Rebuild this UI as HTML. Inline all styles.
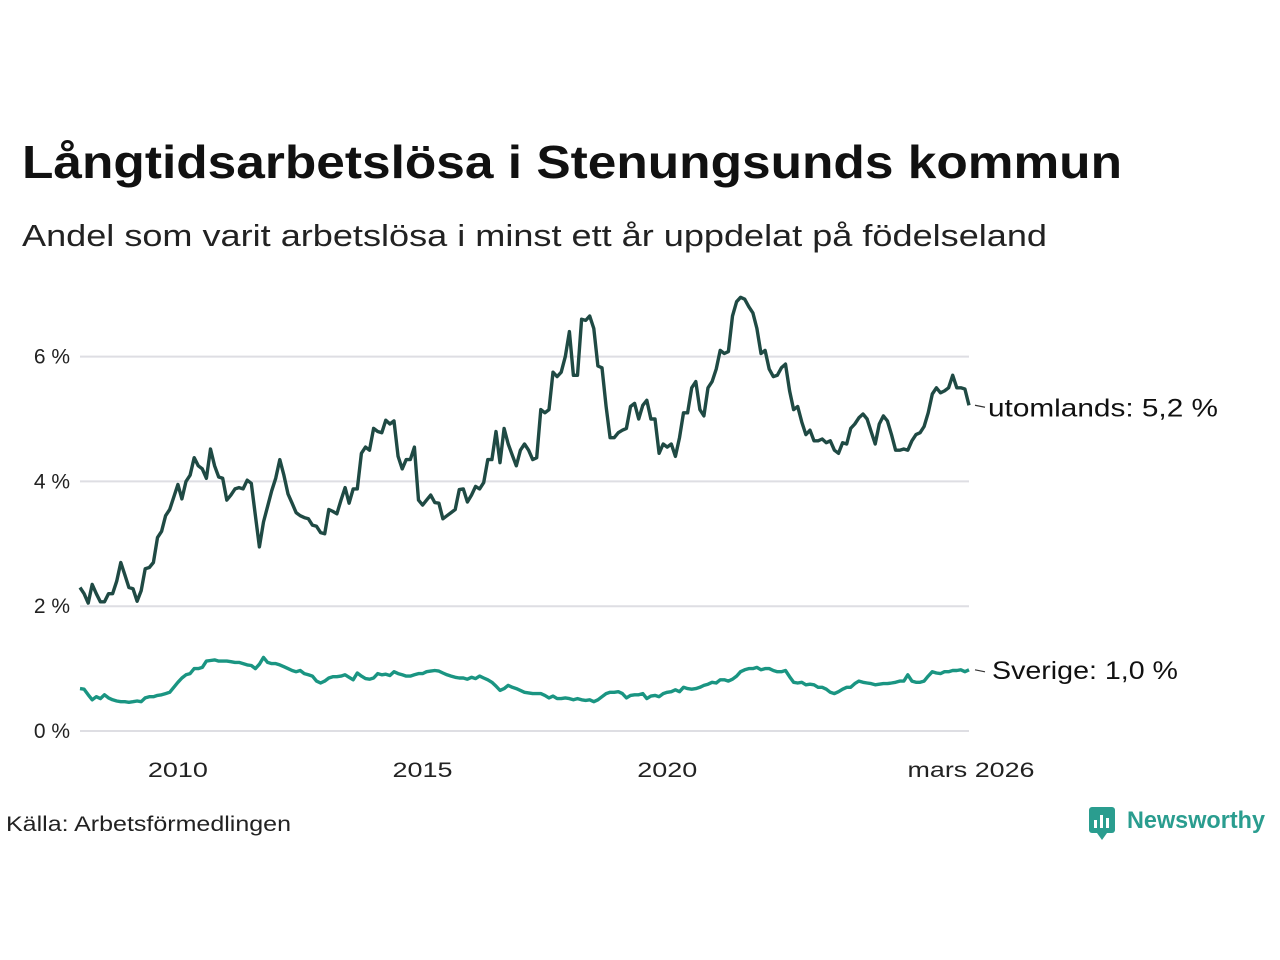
<!DOCTYPE html>
<html><head><meta charset="utf-8"><style>
body{margin:0;background:#fff;font-family:"Liberation Sans","DejaVu Sans",sans-serif;}
#wrap{position:relative;width:1280px;height:960px;overflow:hidden}
</style></head><body><div id="wrap">
<svg id="svg" width="1280" height="960">
<text x="22" y="178" font-size="46" font-weight="bold" fill="#111" textLength="1100" lengthAdjust="spacingAndGlyphs">Långtidsarbetslösa i Stenungsunds kommun</text>
<text x="22" y="246" font-size="31" fill="#222" textLength="1025" lengthAdjust="spacingAndGlyphs">Andel som varit arbetslösa i minst ett år uppdelat på födelseland</text>
<g id="grid"></g><g id="lines"></g>
<text x="6" y="831" font-size="21" fill="#222" textLength="285" lengthAdjust="spacingAndGlyphs">Källa: Arbetsförmedlingen</text>
<g>
<rect x="1089" y="807" width="26" height="26" rx="3" fill="#2a9d8f"/>
<path d="M1097 833 L1102 840 L1107 833 Z" fill="#2a9d8f"/>
<rect x="1094" y="820" width="3" height="8" fill="#fff"/><rect x="1100" y="815" width="3" height="13" fill="#fff"/><rect x="1106" y="818" width="3" height="10" fill="#fff"/>
<text x="1127" y="828" font-size="24" font-weight="bold" fill="#2a9d8f" textLength="138" lengthAdjust="spacingAndGlyphs">Newsworthy</text>
</g>
</svg>
<script>
const years=[2008,2009,2010,2011,2012,2013,2014,2015,2016,2017,2018,2019,2020,2021,2022,2023,2024,2025,2026];
const utomlands=[
2.3,2.2,2.05,2.35,2.2,2.07,2.07,2.2,2.2,2.4,2.7,2.5,
2.3,2.28,2.08,2.25,2.6,2.62,2.7,3.1,3.2,3.45,3.55,3.75,
3.95,3.72,4.0,4.1,4.38,4.25,4.2,4.05,4.52,4.25,4.07,4.05,
3.7,3.78,3.88,3.9,3.88,4.02,3.97,3.45,2.95,3.35,3.6,3.85,
4.05,4.35,4.1,3.8,3.65,3.5,3.45,3.42,3.4,3.3,3.28,3.18,
3.16,3.55,3.52,3.48,3.7,3.9,3.65,3.88,3.88,4.45,4.55,4.5,
4.85,4.8,4.78,4.98,4.92,4.97,4.4,4.2,4.35,4.35,4.55,3.7,
3.62,3.7,3.78,3.66,3.65,3.4,3.45,3.5,3.55,3.87,3.88,3.67,
3.78,3.92,3.88,3.98,4.35,4.35,4.8,4.3,4.85,4.6,4.42,4.25,
4.5,4.6,4.5,4.35,4.38,5.15,5.1,5.15,5.75,5.68,5.75,6.0,
6.4,5.7,5.7,6.6,6.58,6.65,6.45,5.85,5.82,5.2,4.7,4.7,
4.78,4.82,4.85,5.2,5.25,5.0,5.22,5.3,5.0,5.0,4.45,4.6,
4.55,4.6,4.4,4.7,5.1,5.1,5.5,5.6,5.15,5.05,5.5,5.6,
5.8,6.1,6.05,6.08,6.65,6.88,6.95,6.92,6.8,6.7,6.45,6.05,
6.1,5.8,5.68,5.7,5.82,5.88,5.45,5.15,5.2,4.95,4.75,4.82,
4.65,4.65,4.68,4.62,4.65,4.5,4.45,4.62,4.6,4.85,4.92,5.02,
5.08,5.0,4.8,4.6,4.92,5.05,4.97,4.75,4.5,4.5,4.52,4.5,
4.65,4.75,4.78,4.88,5.1,5.4,5.5,5.42,5.45,5.5,5.7,5.5,
5.5,5.48,5.22];
const sverige=[
0.68,0.67,0.58,0.5,0.55,0.52,0.58,0.53,0.5,0.48,0.47,0.47,
0.46,0.47,0.48,0.47,0.53,0.55,0.55,0.57,0.58,0.6,0.62,0.7,
0.78,0.85,0.9,0.92,1.0,1.0,1.02,1.12,1.13,1.14,1.12,1.12,
1.12,1.11,1.1,1.1,1.08,1.06,1.05,1.0,1.07,1.18,1.1,1.08,
1.08,1.06,1.03,1.0,0.97,0.95,0.97,0.92,0.9,0.88,0.8,0.77,
0.8,0.85,0.87,0.87,0.88,0.9,0.86,0.82,0.93,0.88,0.84,0.83,
0.85,0.92,0.9,0.91,0.89,0.95,0.92,0.9,0.88,0.88,0.9,0.92,
0.92,0.95,0.96,0.97,0.96,0.93,0.9,0.88,0.86,0.85,0.85,0.83,
0.86,0.84,0.88,0.85,0.82,0.78,0.72,0.65,0.68,0.73,0.7,0.68,
0.65,0.62,0.61,0.6,0.6,0.6,0.57,0.53,0.56,0.52,0.52,0.53,
0.52,0.5,0.52,0.5,0.49,0.5,0.47,0.5,0.55,0.6,0.62,0.62,
0.63,0.6,0.53,0.57,0.58,0.58,0.6,0.52,0.56,0.57,0.55,0.6,
0.62,0.63,0.66,0.63,0.7,0.68,0.67,0.68,0.7,0.73,0.75,0.78,
0.77,0.82,0.82,0.8,0.83,0.88,0.95,0.98,1.0,1.0,1.02,0.98,
1.0,1.0,0.97,0.95,0.95,0.97,0.87,0.78,0.77,0.78,0.74,0.75,
0.74,0.7,0.7,0.67,0.62,0.6,0.63,0.67,0.7,0.7,0.76,0.8,
0.78,0.77,0.76,0.74,0.75,0.76,0.76,0.77,0.78,0.8,0.8,0.9,
0.8,0.78,0.78,0.8,0.88,0.95,0.93,0.92,0.95,0.95,0.97,0.97,
0.98,0.95,0.98];
const yTicks=[0,2,4,6];
const yTickLabels=["0 %","2 %","4 %","6 %"];
const xTicks=[2010,2015,2020];
const lastLabel="mars 2026";
const seriesNames=["utomlands","Sverige"];

const NS="http://www.w3.org/2000/svg";
const x0=80,x1=969,yb=731,pxPer=62.4;
const n=Math.max(utomlands.length,sverige.length);
const startYear=years[0];
function xm(i){return x0+(x1-x0)*i/(n-1);}
function xy(yr){return xm((yr-startYear)*12);}
function yv(v){return yb-v*pxPer;}
function mk(t,a,p){const e=document.createElementNS(NS,t);for(const k in a)e.setAttribute(k,a[k]);p.appendChild(e);return e;}
const grid=document.getElementById('grid'),lines=document.getElementById('lines');
yTicks.forEach((t,i)=>{
 const l=mk('line',{x1:x0,x2:x1,y1:yv(t),y2:yv(t),stroke:'#dedee3','stroke-width':2},grid);
 
 
 const tx=mk('text',{x:70,y:yv(t)+7,'font-size':21,'text-anchor':'end',fill:'#222'},grid);
 tx.textContent=yTickLabels[i];
 
 
});
xTicks.forEach(t=>{
 const tx=mk('text',{x:xy(t),y:777,'font-size':21,'text-anchor':'middle',fill:'#222',textLength:60,lengthAdjust:'spacingAndGlyphs'},grid);
 tx.textContent=t;
 
 
});
const lt=mk('text',{x:xm(n-1)+2,y:777,'font-size':21,'text-anchor':'middle',fill:'#222',textLength:127,lengthAdjust:'spacingAndGlyphs'},grid);
lt.textContent=lastLabel;


function draw(arr,color,name,lblDy,lx,lw){
 const m=arr.length;
 const d=arr.map((v,i)=>(i?'L':'M')+xm(i+n-m).toFixed(1)+' '+yv(v).toFixed(1)).join(' ');
 const p=mk('path',{d:d,fill:'none',stroke:color,'stroke-width':3.4,'stroke-linejoin':'round'},lines);
 
 
 const lv=arr[m-1],ly=yv(lv);
 mk('line',{x1:xm(n-1)+6,x2:xm(n-1)+16,y1:ly,y2:ly+2,stroke:'#333','stroke-width':1.2},lines);
 const t=mk('text',{x:lx,y:ly+lblDy,'font-size':25,fill:'#111',textLength:lw,lengthAdjust:'spacingAndGlyphs'},lines);
 t.textContent=name+': '+lv.toFixed(1).replace('.',',')+' %';
 
 
}
draw(utomlands,'#1f4a44',seriesNames[0],11,988,230);
draw(sverige,'#1a9582',seriesNames[1],9,992,186);
</script>
</div></body></html>
